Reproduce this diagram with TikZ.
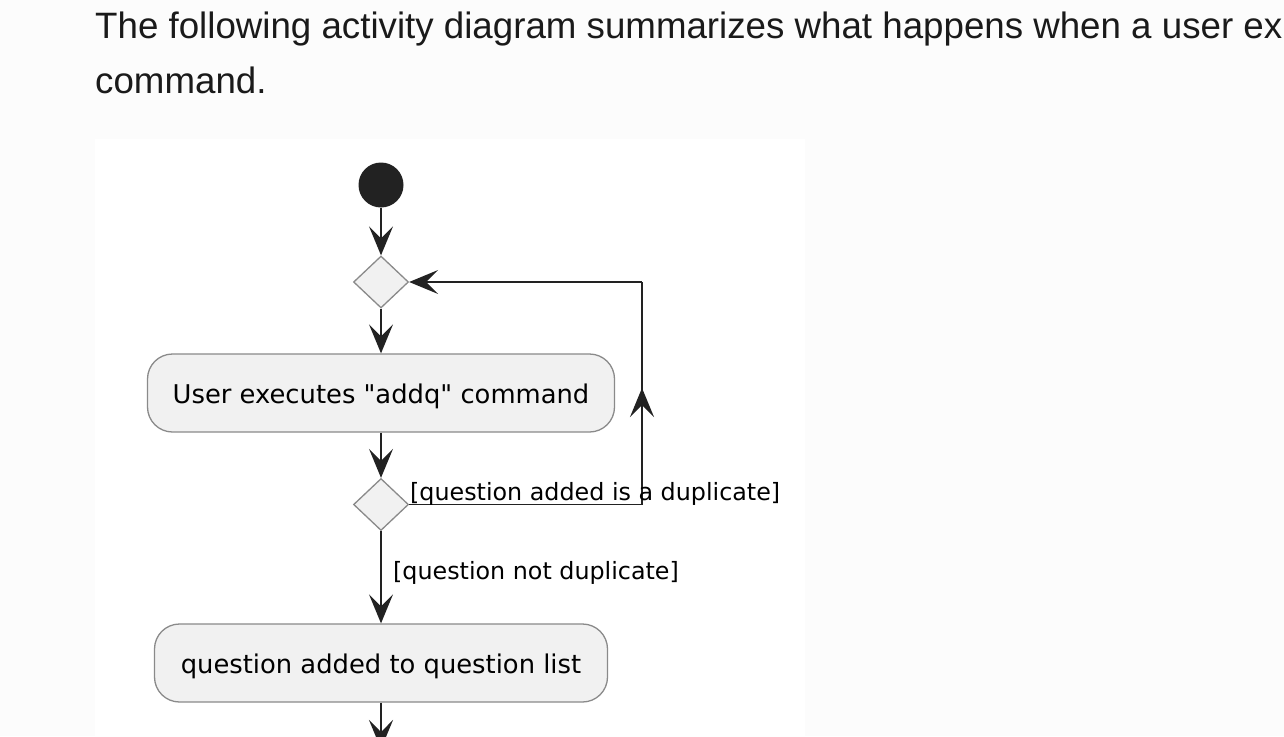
\documentclass[tikz,border=0pt]{standalone}
\usepackage{fontspec}
\setmainfont{Liberation Sans}
\newfontfamily\umlfont{DejaVu Sans}
\usetikzlibrary{shapes.geometric,arrows.meta}
\definecolor{pagebg}{HTML}{FCFCFC}
\definecolor{ink}{HTML}{1A1A1A}
\definecolor{linec}{HTML}{222222}
\definecolor{boxfill}{HTML}{F1F1F1}
\definecolor{boxdraw}{HTML}{8A8A8A}
\begin{document}
\begin{tikzpicture}[x=1pt,y=-1pt,
  headtext/.style={anchor=base west, inner sep=0pt, text=ink, font=\fontsize{36.7}{44}\selectfont},
  startdot/.style={circle, fill=linec, minimum size=45pt, inner sep=0pt},
  decision/.style={diamond, draw=boxdraw, fill=boxfill, line width=1.3pt, minimum width=55pt, minimum height=52pt, inner sep=0pt},
  action/.style={rectangle, rounded corners=25pt, draw=boxdraw, fill=boxfill, line width=1.3pt, minimum height=78pt, inner sep=0pt, text height=20pt, text depth=0pt, font=\umlfont\fontsize{25.8}{30}\selectfont, text=black},
  guard/.style={anchor=base west, inner sep=0pt, font=\umlfont\fontsize{23.8}{28}\selectfont, text=black},
  flow/.style={draw=linec, line width=1.7pt, -{Stealth[length=29pt,width=24pt,inset=12pt]}},
  wire/.style={draw=linec, line width=1.7pt}
]
\useasboundingbox (0,0) rectangle (1284,736);
\clip (0,0) rectangle (1284,736);
\fill[pagebg] (0,0) rectangle (1284,736);
\fill[white] (95,139) rectangle (805,736);

\node[headtext] (h1) at (95,38) {The following activity diagram summarizes what happens when a user ex};
\node[headtext] (h2) at (95,93) {command.};

\node[startdot] (start) at (381,185) {};
\node[decision] (d1) at (381,282) {};
\node[action, minimum width=467pt] (b1) at (381,393) {User executes "addq" command};
\node[decision] (d2) at (381,504.5) {};
\node[action, minimum width=453pt] (b2) at (381,663) {question added to question list};

\coordinate (lr) at (642,504.5);
\coordinate (mid) at (642,388);
\coordinate (ur) at (642,282);
\coordinate (endpt) at (381,749);

\draw[flow] (start) -- (d1);
\draw[flow] (d1) -- (b1);
\draw[flow] (b1) -- (d2);
\draw[flow] (d2) -- (b2);
\draw[flow] (b2) -- (endpt);
\draw[wire] (d2.east) -- (lr) -- (ur);
\draw[flow] (lr) -- (mid);
\draw[flow] (ur) -- (d1.east);

\node[guard] (g1) at (410,500) {[question added is a duplicate]};
\node[guard] (g2) at (393,579) {[question not duplicate]};
\end{tikzpicture}
\end{document}
